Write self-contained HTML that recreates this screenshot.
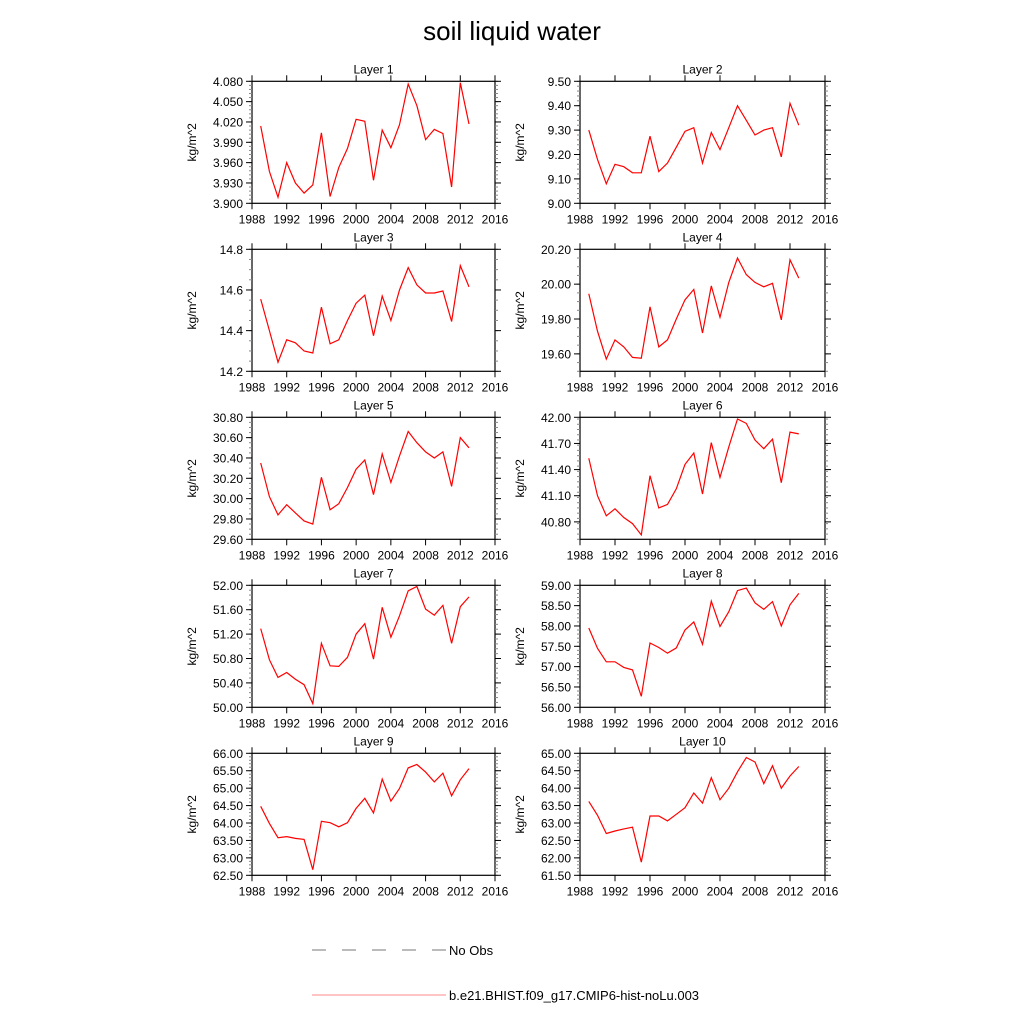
<!DOCTYPE html>
<html><head><meta charset="utf-8"><style>
body{margin:0;background:#fff;}
svg text{font-family:"Liberation Sans",sans-serif;fill:#000;}
</style></head><body>
<svg id="chart" width="1024" height="1024" viewBox="0 0 1024 1024" xmlns="http://www.w3.org/2000/svg">
<text x="512" y="40" font-size="26" text-anchor="middle">soil liquid water</text>
<g id="panels"></g>
<g>
<line x1="312" y1="950" x2="446" y2="950" stroke="#777" stroke-width="1" stroke-dasharray="14,16"/>
<text x="449" y="955" font-size="13">No Obs</text>
<line x1="312" y1="995" x2="446" y2="995" stroke="#f88" stroke-width="1"/>
<text x="449" y="1000" font-size="13">b.e21.BHIST.f09_g17.CMIP6-hist-noLu.003</text>
</g>
</svg>
<script>
const years = [1989,1990,1991,1992,1993,1994,1995,1996,1997,1998,1999,2000,2001,2002,2003,2004,2005,2006,2007,2008,2009,2010,2011,2012,2013];
const xTicks = [1988,1992,1996,2000,2004,2008,2012,2016];
const layer1 = [4.014,3.947,3.909,3.960,3.930,3.915,3.927,4.004,3.910,3.953,3.981,4.024,4.021,3.934,4.008,3.982,4.016,4.076,4.044,3.994,4.009,4.003,3.924,4.078,4.017];
const layer2 = [9.30,9.18,9.08,9.16,9.15,9.125,9.125,9.275,9.13,9.165,9.23,9.295,9.31,9.165,9.29,9.22,9.31,9.40,9.34,9.28,9.30,9.31,9.19,9.41,9.32];
const layer3 = [14.555,14.40,14.245,14.355,14.34,14.30,14.29,14.515,14.335,14.355,14.45,14.535,14.575,14.375,14.57,14.45,14.60,14.71,14.625,14.585,14.585,14.595,14.445,14.72,14.615];
const layer4 = [19.945,19.73,19.57,19.68,19.64,19.58,19.575,19.87,19.64,19.68,19.80,19.91,19.97,19.72,19.99,19.81,20.01,20.15,20.055,20.01,19.985,20.005,19.795,20.14,20.035];
const layer5 = [30.35,30.02,29.84,29.94,29.86,29.78,29.75,30.21,29.89,29.95,30.11,30.29,30.38,30.04,30.44,30.16,30.42,30.66,30.55,30.46,30.40,30.46,30.12,30.60,30.50];
const layer6 = [41.53,41.10,40.87,40.95,40.85,40.78,40.65,41.33,40.96,41.00,41.18,41.46,41.59,41.12,41.71,41.31,41.66,41.98,41.93,41.74,41.64,41.75,41.25,41.83,41.81];
const layer7 = [51.29,50.78,50.49,50.57,50.46,50.37,50.06,51.05,50.68,50.67,50.82,51.20,51.37,50.79,51.64,51.15,51.50,51.91,51.98,51.61,51.51,51.67,51.05,51.65,51.81];
const layer8 = [57.95,57.45,57.12,57.12,56.98,56.92,56.27,57.58,57.47,57.33,57.46,57.90,58.10,57.55,58.61,57.99,58.35,58.87,58.93,58.57,58.41,58.60,58.00,58.52,58.80];
const layer9 = [64.48,63.99,63.58,63.61,63.56,63.53,62.66,64.05,64.01,63.89,64.01,64.42,64.71,64.29,65.26,64.63,64.99,65.58,65.68,65.46,65.18,65.43,64.78,65.24,65.56];
const layer10 = [63.62,63.22,62.70,62.77,62.83,62.88,61.88,63.20,63.20,63.06,63.25,63.44,63.86,63.57,64.30,63.67,64.00,64.47,64.88,64.75,64.13,64.64,64.00,64.35,64.62];
const yTicks1 = [3.900,3.930,3.960,3.990,4.020,4.050,4.080];
const yTicks2 = [9.00,9.10,9.20,9.30,9.40,9.50];
const yTicks3 = [14.2,14.4,14.6,14.8];
const yTicks4 = [19.60,19.80,20.00,20.20];
const yTicks5 = [29.60,29.80,30.00,30.20,30.40,30.60,30.80];
const yTicks6 = [40.80,41.10,41.40,41.70,42.00];
const yTicks7 = [50.00,50.40,50.80,51.20,51.60,52.00];
const yTicks8 = [56.00,56.50,57.00,57.50,58.00,58.50,59.00];
const yTicks9 = [62.50,63.00,63.50,64.00,64.50,65.00,65.50,66.00];
const yTicks10 = [61.50,62.00,62.50,63.00,63.50,64.00,64.50,65.00];
const yRanges = [[3.9,4.08],[9.0,9.5],[14.2,14.8],[19.5,20.2],[29.6,30.8],[40.6,42.0],[50,52],[56,59],[62.5,66],[61.5,65]];
const yDecimals = [3,2,1,2,2,2,2,2,2,2];
const yMinorStep = [0.006,0.02,0.05,0.05,0.05,0.06,0.08,0.1,0.1,0.1];
const series = [layer1,layer2,layer3,layer4,layer5,layer6,layer7,layer8,layer9,layer10];
const ticks = [yTicks1,yTicks2,yTicks3,yTicks4,yTicks5,yTicks6,yTicks7,yTicks8,yTicks9,yTicks10];

const NS="http://www.w3.org/2000/svg";
const root=document.getElementById('panels');
function mk(tag,attrs,parent){const e=document.createElementNS(NS,tag);for(const k in attrs)e.setAttribute(k,attrs[k]);parent.appendChild(e);return e;}
for(let i=0;i<10;i++){
  const col=i%2,row=Math.floor(i/2);
  const L=col?580:252,R=col?825:495,T=81.3+row*168,B=203.3+row*168;
  const g=mk('g',{},root);
  
  
  const xs=v=>L+(v-1988)/28*(R-L);
  const [y0,y1]=yRanges[i];
  const ys=v=>B-(v-y0)/(y1-y0)*(B-T);
  const fr=mk('rect',{x:L,y:T,width:R-L,height:B-T,fill:'none',stroke:'#000','stroke-width':1.2},g);
  
  
  const t=mk('text',{x:(L+R)/2,y:T-8,'font-size':12,'text-anchor':'middle'},g);
  t.textContent='Layer '+(i+1);
  
  
  const yl=mk('text',{x:0,y:0,'font-size':12,'text-anchor':'middle',transform:`translate(${L-56},${(T+B)/2}) rotate(-90)`},g);
  yl.textContent='kg/m^2';
  
  
  // minor y ticks
  for(let v=y0;v<=y1+1e-9;v+=yMinorStep[i]){
    const y=ys(v);
    mk('line',{x1:L-3,x2:L,y1:y,y2:y,stroke:'#888','stroke-width':1},g);
    mk('line',{x1:R,x2:R+3,y1:y,y2:y,stroke:'#888','stroke-width':1},g);
  }
  ticks[i].forEach(v=>{
    const y=ys(v);
    mk('line',{x1:L-6,x2:L,y1:y,y2:y,stroke:'#000','stroke-width':1},g);
    mk('line',{x1:R,x2:R+6,y1:y,y2:y,stroke:'#000','stroke-width':1},g);
    const tx=mk('text',{x:L-9,y:y+4.5,'font-size':12,'text-anchor':'end'},g);
    tx.textContent=v.toFixed(yDecimals[i]);
    
    
  });
  xTicks.forEach(v=>{
    const x=xs(v);
    mk('line',{x1:x,x2:x,y1:B,y2:B+6,stroke:'#000','stroke-width':1},g);
    mk('line',{x1:x,x2:x,y1:T-6,y2:T,stroke:'#000','stroke-width':1},g);
    const tx=mk('text',{x:x,y:B+20,'font-size':12,'text-anchor':'middle'},g);
    tx.textContent=v;
    
    
  });
  const pts=series[i].map((v,k)=>xs(years[k]).toFixed(1)+','+ys(v).toFixed(1)).join(' ');
  const pl=mk('polyline',{points:pts,fill:'none',stroke:'#f00','stroke-width':1.2},g);
  
  
}
</script>
</body></html>
